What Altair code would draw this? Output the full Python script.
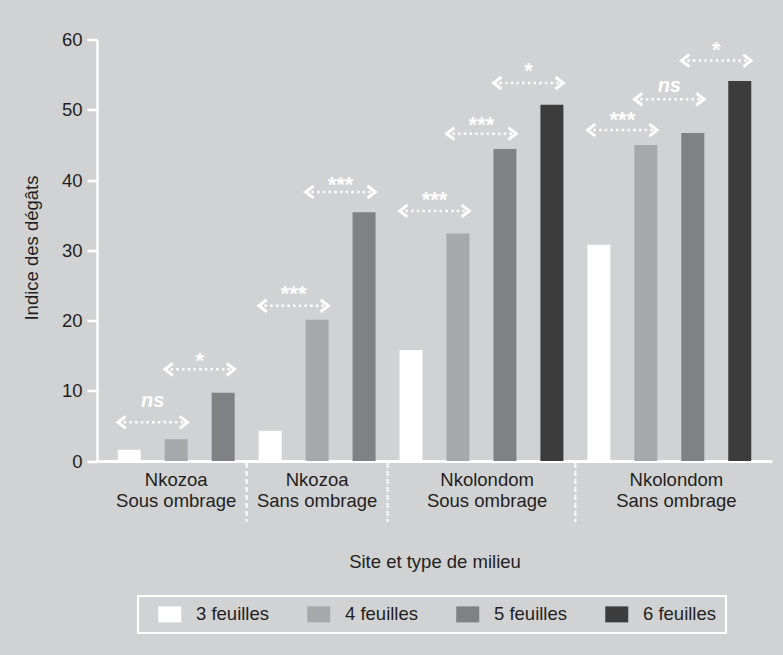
import altair as alt
import pandas as pd

FONT = "Liberation Sans"
TEXT = "#231f20"
BG = "#d1d2d4"
FS = 18.5

# ---- bar data (14 bars laid out left to right) ----
BAR_POS = list(range(14))
BAR_LEAVES = ["3 feuilles", "4 feuilles", "5 feuilles",
              "3 feuilles", "4 feuilles", "5 feuilles",
              "3 feuilles", "4 feuilles", "5 feuilles", "6 feuilles",
              "3 feuilles", "4 feuilles", "5 feuilles", "6 feuilles"]
BAR_VALUES = [1.6, 3.1, 9.7,
              4.3, 20.1, 35.4,
              15.8, 32.4, 44.4, 50.7,
              30.8, 45.0, 46.7, 54.1]

LEAF_ORDER = ["3 feuilles", "4 feuilles", "5 feuilles", "6 feuilles"]
LEAF_COLORS = ["#ffffff", "#a7a8ab", "#808184", "#3c3c3d"]

Y_TICKS = [0, 10, 20, 30, 40, 50, 60]

# ---- groups ----
GROUP_LABELS = ["Nkozoa\nSous ombrage", "Nkozoa\nSans ombrage",
                "Nkolondom\nSous ombrage", "Nkolondom\nSans ombrage"]
GROUP_LABEL_POS = [1.0, 4.0, 7.62, 11.65]
SEPARATOR_POS = [2.5, 5.5, 9.5]

# ---- significance arrows ----
ARROW_FROM = [0, 1, 3, 4, 6, 7, 8, 10, 11, 12]
ARROW_TO = [1, 2, 4, 5, 7, 8, 9, 11, 12, 13]
ARROW_Y = [5.5, 13.05, 22.1, 38.3, 35.6, 46.6, 53.8, 47.1, 51.5, 57.0]
SIG = ["ns", "*", "***", "***", "***", "***", "*", "***", "ns", "*"]
SIG_Y = [8.33, 14.95, 24.5, 40.0, 37.9, 48.5, 56.2, 49.25, 53.2, 59.2]

HALF_BAR = 0.241  # half bar width in position units (layout)

bars_df = pd.DataFrame({"x": BAR_POS, "y": BAR_VALUES, "leaves": BAR_LEAVES})
groups_df = pd.DataFrame({"x": GROUP_LABEL_POS, "label": GROUP_LABELS})
sep_df = pd.DataFrame({"x": SEPARATOR_POS})
arrows_df = pd.DataFrame({
    "x": [a - HALF_BAR for a in ARROW_FROM],
    "x2": [b + HALF_BAR for b in ARROW_TO],
    "xm": [(a + b) / 2 for a, b in zip(ARROW_FROM, ARROW_TO)],
    "y": ARROW_Y,
    "ly": SIG_Y,
    "sig": SIG,
})

X_SCALE = alt.Scale(domain=[-0.58, 13.58], nice=False, zero=False)
Y_SCALE = alt.Scale(domain=[0, 60], nice=False)

RECT_PATH = "M-1.4375,-1H1.4375V1H-1.4375Z"

bars = alt.Chart(bars_df).mark_bar(width=23, orient="vertical").encode(
    x=alt.X("x:Q", scale=X_SCALE, axis=alt.Axis(
        title="Site et type de milieu", labels=False, ticks=False, grid=False,
        domainColor="white", domainWidth=3, titleY=100, titleBaseline="middle",
        titleFontSize=FS, titleFontWeight="normal", titleColor=TEXT, titleFont=FONT)),
    y=alt.Y("y:Q", scale=Y_SCALE, axis=alt.Axis(
        values=Y_TICKS, title="Indice des dégâts", grid=False,
        tickSize=10, tickWidth=2.5, tickColor="white",
        domainColor="white", domainWidth=2.5,
        labelFontSize=FS, labelColor=TEXT, labelFont=FONT, labelPadding=5,
        titleAngle=270, titleX=-66, titleY=208, titleAlign="center",
        titleBaseline="middle", titleFontSize=FS, titleFontWeight="normal",
        titleColor=TEXT, titleFont=FONT)),
    color=alt.Color("leaves:N", scale=alt.Scale(domain=LEAF_ORDER, range=LEAF_COLORS),
                    title=None,
                    legend=alt.Legend(
                        orient="none", legendX=41, legendY=556.5,
                        direction="horizontal", columns=4,
                        symbolType=RECT_PATH, symbolSize=256, symbolStrokeWidth=0,
                        symbolOffset=13.5, labelOffset=17, columnPadding=26,
                        padding=9, strokeColor="white", symbolOpacity=1,
                        labelFontSize=FS, labelFont=FONT, labelColor=TEXT)),
)

seps = alt.Chart(sep_df).mark_rule(color="white", strokeWidth=2, strokeDash=[5, 3]).encode(
    x=alt.X("x:Q", scale=X_SCALE),
    y=alt.value(423.5),
    y2=alt.value(482.5),
)

group_text = alt.Chart(groups_df).mark_text(
    lineBreak="\n", fontSize=FS, font=FONT, color=TEXT, align="center",
    baseline="alphabetic", lineHeight=21).encode(
    x=alt.X("x:Q", scale=X_SCALE),
    y=alt.value(446.5),
    text="label:N",
)

arrow_lines = alt.Chart(arrows_df).mark_rule(
    color="white", strokeWidth=2.5, strokeDash=[2.5, 3.2]).encode(
    x=alt.X("x:Q", scale=X_SCALE),
    x2="x2:Q",
    y=alt.Y("y:Q", scale=Y_SCALE),
)

left_heads = alt.Chart(arrows_df).mark_point(
    shape="M1.3,-1L0,0L1.3,1", size=144, filled=False, stroke="white",
    strokeWidth=3, opacity=1).encode(
    x=alt.X("x:Q", scale=X_SCALE),
    y=alt.Y("y:Q", scale=Y_SCALE),
)

right_heads = alt.Chart(arrows_df).mark_point(
    shape="M-1.3,-1L0,0L-1.3,1", size=144, filled=False, stroke="white",
    strokeWidth=3, opacity=1).encode(
    x=alt.X("x2:Q", scale=X_SCALE),
    y=alt.Y("y:Q", scale=Y_SCALE),
)

stars = alt.Chart(arrows_df).transform_filter(alt.datum.sig != "ns").mark_text(
    fontSize=22, fontWeight="bold", font=FONT, color="white",
    align="center", baseline="alphabetic", dy=12).encode(
    x=alt.X("xm:Q", scale=X_SCALE),
    y=alt.Y("ly:Q", scale=Y_SCALE),
    text="sig:N",
)

ns = alt.Chart(arrows_df).transform_filter(alt.datum.sig == "ns").mark_text(
    fontSize=20, fontWeight="bold", fontStyle="italic", font=FONT, color="white",
    align="center", baseline="alphabetic", dy=5).encode(
    x=alt.X("xm:Q", scale=X_SCALE),
    y=alt.Y("ly:Q", scale=Y_SCALE),
    text="sig:N",
)

chart = alt.layer(bars, seps, group_text, arrow_lines, left_heads, right_heads, stars, ns).properties(
    width=675, height=421.5,
    padding={"left": 97, "top": 39.5, "right": 11, "bottom": 194},
    autosize=alt.AutoSizeParams(type="none"),
).configure(background=BG).configure_view(strokeWidth=0).configure_legend(strokeWidth=2)

chart.save("out.html", embed_options={"renderer": "svg", "actions": False})
